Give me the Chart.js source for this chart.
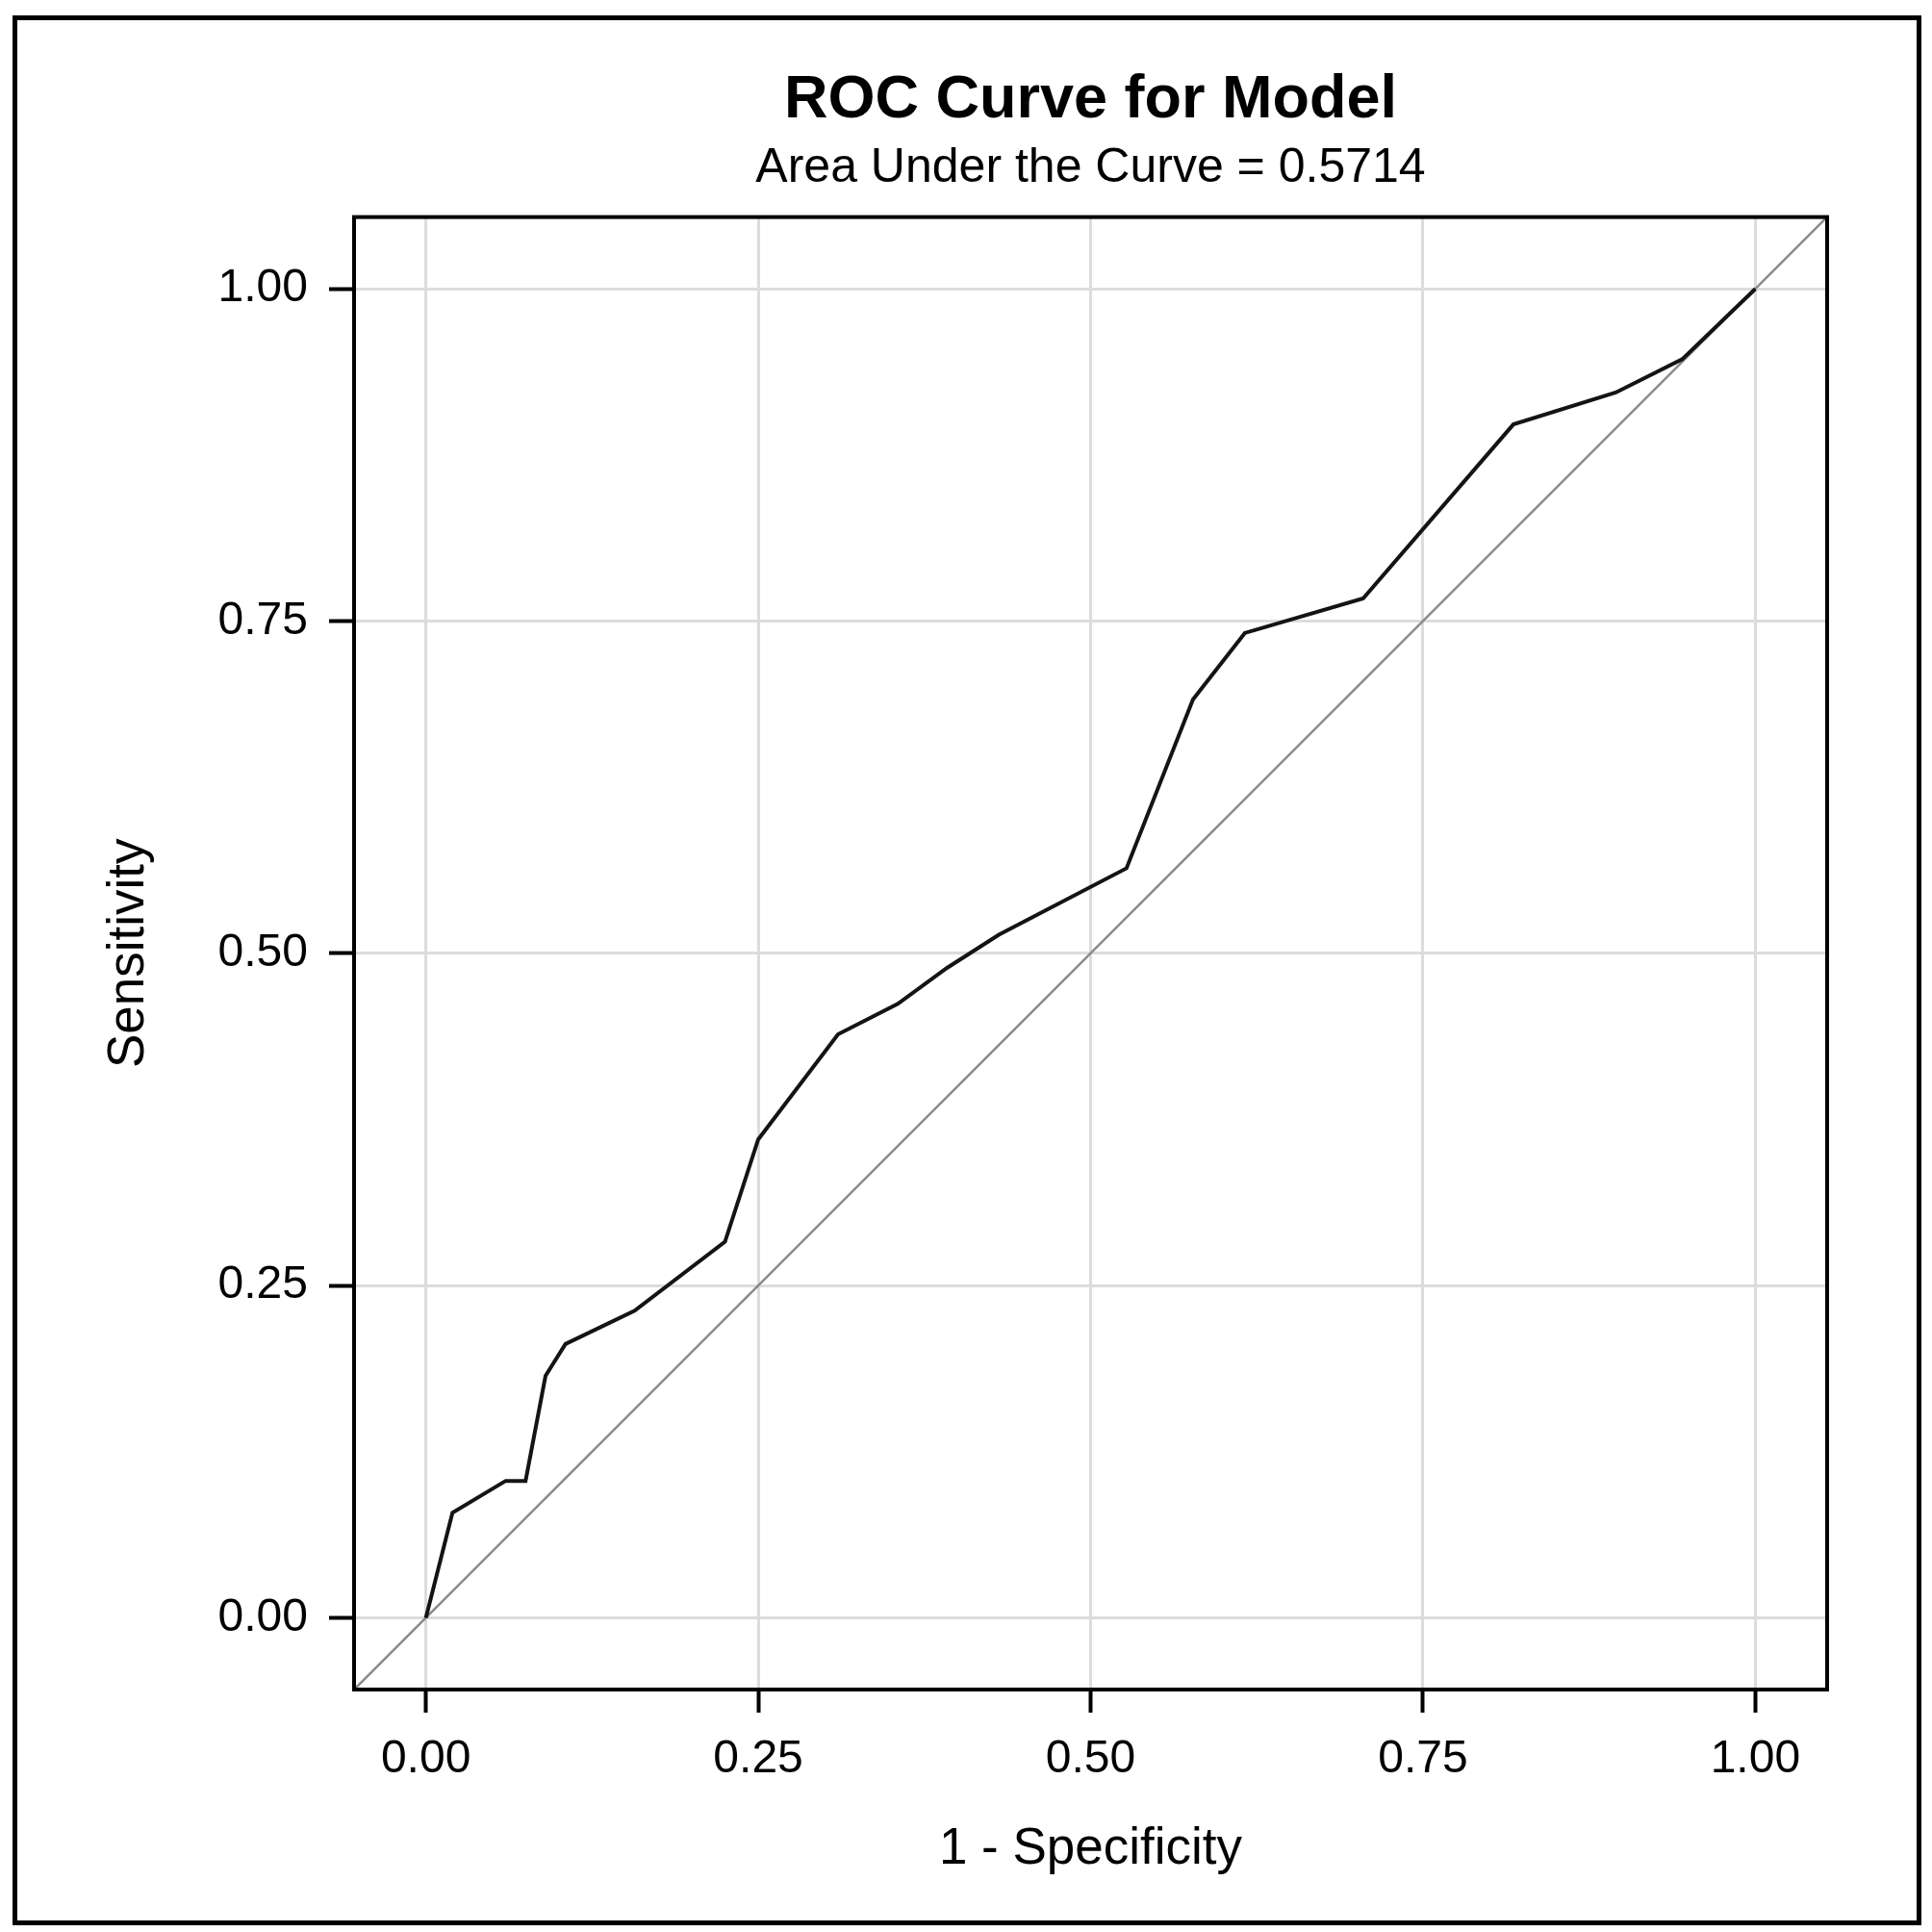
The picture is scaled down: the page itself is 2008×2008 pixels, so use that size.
<!DOCTYPE html>
<html>
<head>
<meta charset="utf-8">
<title>ROC Curve for Model</title>
<script src="https://cdn.jsdelivr.net/npm/chart.js@4.4.1/dist/chart.umd.min.js"></script>
<style>
  html, body { margin: 0; padding: 0; background: #fff; }
  canvas { display: block; }
</style>
</head>
<body>
<canvas id="roc" width="2008" height="2008"></canvas>
<script>
// ROC points
const fpr = [0, 0.020, 0.060, 0.075, 0.090, 0.105, 0.157, 0.225, 0.250, 0.310, 0.355,
             0.392, 0.431, 0.527, 0.577, 0.616, 0.705, 0.818, 0.895, 0.945, 1];
const tpr = [0, 0.079, 0.103, 0.103, 0.182, 0.206, 0.231, 0.283, 0.360, 0.439, 0.462,
             0.489, 0.514, 0.564, 0.691, 0.741, 0.767, 0.898, 0.922, 0.947, 1];
const tickValues = [0, 0.25, 0.5, 0.75, 1];
const axisMin = -0.054;
const axisMax = 1.054;
const refLine = [axisMin, axisMax];   // chance diagonal, corner to corner

const FONT = "'Liberation Sans', Arial, sans-serif";

// outer box round the whole picture
const outerFrame = {
    id: 'outerFrame',
    beforeDraw(chart) {
        const ctx = chart.ctx;
        ctx.save();
        ctx.fillStyle = '#fff';
        ctx.fillRect(0, 0, chart.width, chart.height);
        ctx.strokeStyle = '#000';
        ctx.lineWidth = 5;
        ctx.strokeRect(15.5, 18.5, 1979, 1980);
        ctx.restore();
    }
};

// full box round the plot area
const plotFrame = {
    id: 'plotFrame',
    afterDatasetsDraw(chart) {
        const a = chart.chartArea;
        const ctx = chart.ctx;
        ctx.save();
        ctx.strokeStyle = '#000';
        ctx.lineWidth = 4;
        ctx.strokeRect(a.left, a.top, a.right - a.left, a.bottom - a.top);
        ctx.restore();
    }
};

function axis(title, titlePadding, tickLen) {
    return {
        type: 'linear',
        min: axisMin,
        max: axisMax,
        afterBuildTicks: s => { s.ticks = tickValues.map(v => ({ value: v })); },
        ticks: {
            callback: v => v.toFixed(2),
            font: { family: FONT, size: 48 },
            color: '#000',
            padding: 20,
            autoSkip: false,
            maxRotation: 0
        },
        grid: {
            color: '#dcdcdc',
            lineWidth: 3,
            tickLength: tickLen,
            tickColor: '#000',
            tickWidth: 4
        },
        border: { color: '#000', width: 4 },
        title: {
            display: true,
            text: title,
            font: { family: FONT, size: 53 },
            color: '#000',
            padding: titlePadding
        }
    };
}

const xAxis = axis('1 - Specificity', { top: 0, bottom: 54 }, 24);
xAxis.afterFit = s => { s.height = 252; };
const yAxis = axis('Sensitivity', { top: 103, bottom: 0 }, 26);
yAxis.ticks.padding = 22;
yAxis.afterFit = s => { s.width = 368; };

new Chart(document.getElementById('roc'), {
    type: 'scatter',
    data: {
        datasets: [{
            label: 'Model',
            data: fpr.map((x, i) => ({ x: x, y: tpr[i] })),
            showLine: true,
            borderColor: '#141414',
            borderWidth: 4,
            pointRadius: 0,
            tension: 0
        }, {
            label: 'Chance',
            data: refLine.map(v => ({ x: v, y: v })),
            showLine: true,
            borderColor: '#8a8a8a',
            borderWidth: 2.5,
            pointRadius: 0
        }]
    },
    options: {
        responsive: false,
        devicePixelRatio: 1,
        animation: false,
        layout: { padding: { left: 0, top: 0, right: 109, bottom: 0 } },
        scales: { x: xAxis, y: yAxis },
        plugins: {
            legend: { display: false },
            tooltip: { enabled: false },
            title: {
                display: true,
                fullSize: false,
                text: 'ROC Curve for Model',
                color: '#000',
                font: { family: FONT, size: 63, weight: 'bold' },
                padding: { top: 67, bottom: 0 }
            },
            subtitle: {
                display: true,
                fullSize: false,
                text: 'Area Under the Curve = 0.5714',
                color: '#000',
                font: { family: FONT, size: 50 },
                padding: { top: 3, bottom: 20 }
            }
        }
    },
    plugins: [outerFrame, plotFrame]
});
</script>
</body>
</html>
